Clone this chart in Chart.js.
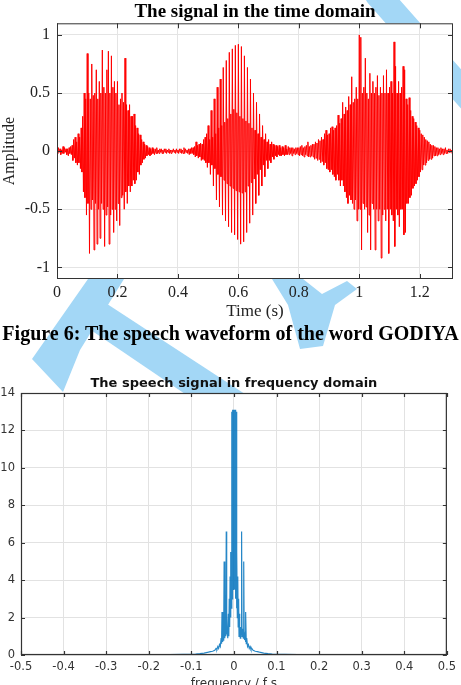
<!DOCTYPE html>
<html><head><meta charset="utf-8">
<script src="https://cdn.jsdelivr.net/npm/chart.js@4.4.1/dist/chart.umd.min.js"></script>
<style>
html,body{margin:0;padding:0;background:#fff;width:461px;height:685px;overflow:hidden;position:relative;}
#wm{position:absolute;left:0;top:0;z-index:0}
#c1wrap{position:absolute;left:0;top:0;width:461px;height:324px;z-index:1}
#c2wrap{position:absolute;left:0;top:340px;width:461px;height:360px;z-index:1}
#caption{position:absolute;left:0;top:321px;width:461px;text-align:center;font-family:"Liberation Serif";font-weight:bold;font-size:20px;line-height:24px;z-index:2;white-space:nowrap;color:#000}
</style></head><body>
<svg id="wm" width="461" height="685" xmlns="http://www.w3.org/2000/svg">
  <g fill="#a3d7f6" stroke="none">
    <polygon points="88,279 124,279 80,350 63,392 32,359"/>
    <polygon points="101,300 248,396 188,396 76,320"/>
    <polygon points="272,279 303,279 322,294 347,281 357,289 335,305 323,346 300,349 288,305"/>
  </g>
  <line x1="378" y1="-5" x2="478" y2="108" stroke="#a3d7f6" stroke-width="26" stroke-linecap="round"/>
</svg>
<div id="c1wrap"><canvas id="c1"></canvas></div>
<div id="caption">Figure 6: The speech waveform of the word GODIYA</div>
<div id="c2wrap"><canvas id="c2"></canvas></div>
<script>
// ---- time-domain data (sample spacing 0.0025 s) ----
const sampleStep = 0.0025;
const amplitude = [
 // 0.00
 0.02,-0.02,0.03,-0.01,0.02,-0.03,0.01,-0.02,0.04,-0.02,0.03,-0.01,0.02,-0.03,0.02,-0.04,0.03,-0.02,0.04,-0.03,
 // 0.05
 0.05,-0.08,0.1,-0.06,0.12,-0.1,0.08,-0.12,0.15,-0.1,0.12,-0.15,0.2,-0.18,0.3,-0.35,0.5,-0.4,0.45,-0.55,
 // 0.10
 0.84,-0.45,0.5,-0.88,0.45,-0.5,0.75,-0.42,0.48,-0.85,0.5,-0.45,0.7,-0.8,0.45,-0.5,0.6,-0.75,0.5,-0.45,
 // 0.15
 0.87,-0.5,0.55,-0.82,0.5,-0.55,0.7,-0.48,0.86,-0.8,0.5,-0.55,0.82,-0.5,0.55,-0.7,0.6,-0.5,0.5,-0.6,
 // 0.20
 0.6,-0.45,0.4,-0.64,0.45,-0.4,0.5,-0.38,0.42,-0.5,0.8,-0.35,0.4,-0.45,0.35,-0.3,0.4,-0.35,0.3,-0.3,
 // 0.25
 0.3,-0.25,0.32,-0.28,0.22,-0.25,0.2,-0.18,0.15,-0.2,0.14,-0.12,0.1,-0.1,0.08,-0.07,0.06,-0.06,0.05,-0.04,
 // 0.30
 0.04,-0.03,0.03,-0.04,0.02,-0.03,0.03,-0.02,0.02,-0.03,0.02,-0.02,0.03,-0.02,0.01,-0.02,0.02,-0.01,0.02,-0.02,
 // 0.35
 0.01,-0.02,0.02,-0.01,0.02,-0.02,0.01,-0.01,0.02,-0.02,0.01,-0.02,0.01,-0.01,0.02,-0.01,0.01,-0.02,0.02,-0.01,
 // 0.40
 0.01,-0.02,0.02,-0.01,0.02,-0.02,0.01,-0.02,0.03,-0.02,0.02,-0.01,0.01,-0.02,0.02,-0.03,0.02,-0.02,0.03,-0.02,
 // 0.45
 0.03,-0.03,0.04,-0.05,0.08,-0.04,0.05,-0.06,0.06,-0.05,0.07,-0.08,0.06,-0.07,0.1,-0.08,0.12,-0.1,0.15,-0.14,
 // 0.50 - 0.70 (second syllable)
 0.22,-0.1,0.1,-0.2,   0.35,-0.12,0.12,-0.3,  0.45,-0.15,0.15,-0.42, 0.55,-0.2,0.2,-0.48,
 0.62,-0.22,0.22,-0.55, 0.72,-0.25,0.25,-0.6,  0.78,-0.28,0.28,-0.65, 0.85,-0.3,0.32,-0.7,
 0.88,-0.32,0.36,-0.72, 0.91,-0.34,0.33,-0.76, 0.92,-0.35,0.3,-0.8,   0.9,-0.36,0.28,-0.78,
 0.82,-0.35,0.26,-0.7,  0.72,-0.3,0.24,-0.62,  0.62,-0.27,0.2,-0.55,  0.5,-0.24,0.18,-0.45,
 0.42,-0.2,0.15,-0.38,  0.32,-0.16,0.12,-0.3,  0.22,-0.12,0.1,-0.22,  0.15,-0.08,0.08,-0.15,
 // 0.70
 0.1,-0.08,0.06,-0.1,0.08,-0.05,0.06,-0.07,0.05,-0.04,0.05,-0.05,0.04,-0.03,0.05,-0.04,0.03,-0.04,0.04,-0.03,
 // 0.75
 0.03,-0.04,0.05,-0.03,0.02,-0.03,0.04,-0.03,0.03,-0.02,0.03,-0.04,0.03,-0.02,0.02,-0.03,0.03,-0.02,0.03,-0.03,
 // 0.80
 0.03,-0.04,0.04,-0.03,0.05,-0.04,0.03,-0.05,0.04,-0.03,0.05,-0.04,0.08,-0.05,0.04,-0.05,0.05,-0.04,0.06,-0.05,
 // 0.85
 0.06,-0.07,0.08,-0.06,0.07,-0.08,0.1,-0.07,0.09,-0.1,0.12,-0.09,0.1,-0.12,0.15,-0.1,0.18,-0.15,0.14,-0.16,
 // 0.90
 0.15,-0.18,0.2,-0.16,0.21,-0.2,0.18,-0.22,0.2,-0.25,0.22,-0.2,0.31,-0.25,0.24,-0.3,0.28,-0.25,0.42,-0.3,
 // 0.95
 0.32,-0.35,0.38,-0.4,0.35,-0.45,0.47,-0.38,0.4,-0.42,0.64,-0.45,0.42,-0.5,0.45,-0.42,0.55,-0.6,0.45,-0.5,
 // 1.00
 1.0,-0.5,0.98,-0.85,0.5,-0.45,0.55,-0.5,0.8,-0.48,0.5,-0.7,0.45,-0.55,0.67,-0.85,0.5,-0.45,0.6,-0.5,
 // 1.05
 0.5,-0.85,0.55,-0.5,0.65,-0.6,0.48,-0.5,0.55,-0.92,0.5,-0.55,0.65,-0.5,0.5,-0.6,0.7,-0.5,0.5,-0.88,
 // 1.10
 0.55,-0.5,0.6,-0.55,0.5,-0.6,0.94,-0.82,0.73,-0.5,0.5,-0.55,0.6,-0.65,0.5,-0.5,0.55,-0.5,0.73,-0.72,
 // 1.15
 0.7,-0.7,0.45,-0.45,0.4,-0.45,0.46,-0.4,0.35,-0.38,0.3,-0.32,0.28,-0.3,0.25,-0.28,0.22,-0.25,0.2,-0.22,
 // 1.20
 0.18,-0.18,0.15,-0.16,0.14,-0.12,0.12,-0.12,0.1,-0.1,0.09,-0.08,0.08,-0.07,0.06,-0.07,0.05,-0.06,0.05,-0.04,
 // 1.25
 0.04,-0.04,0.03,-0.04,0.03,-0.03,0.02,-0.03,0.03,-0.02,0.02,-0.03,0.02,-0.02,0.03,-0.02,0.01,-0.02,0.02,-0.01,
 // 1.30
 0.02,-0.01,0.01,-0.02,0.01
];
const timeTicks = [0,0.2,0.4,0.6,0.8,1,1.2];
const ampTicks = [-1,-0.5,0,0.5,1];

// ---- frequency-domain data ----
const freq = [-0.5,-0.4,-0.3,-0.2,-0.15,-0.12,-0.1,-0.09,-0.08,-0.07,
 -0.06,-0.055,-0.05,-0.045,-0.042,-0.04,-0.038,-0.036,-0.034,-0.032,
 -0.03,-0.029,-0.028,-0.027,-0.026,-0.025,-0.024,-0.023,-0.022,-0.021,
 -0.02,-0.019,-0.018,-0.017,-0.016,-0.015,-0.014,-0.013,-0.012,-0.011,
 -0.01,-0.009,-0.008,-0.007,-0.006,-0.005,-0.004,-0.003,-0.002,-0.001,
 0,
 0.001,0.002,0.003,0.004,0.005,0.006,0.007,0.008,0.009,0.01,
 0.011,0.012,0.013,0.014,0.015,0.016,0.017,0.018,0.019,0.02,
 0.021,0.022,0.023,0.024,0.025,0.026,0.027,0.028,0.029,0.03,
 0.032,0.034,0.036,0.038,0.04,0.042,0.045,0.05,0.055,0.06,
 0.07,0.08,0.09,0.1,0.12,0.15,0.2,0.3,0.4,0.5];
const magnitude = [0.01,0.01,0.01,0.015,0.02,0.03,0.04,0.05,0.07,0.1,
 0.15,0.18,0.2,0.25,0.35,0.3,0.45,0.35,0.55,0.45,
 0.9,0.6,2.3,0.7,1.0,0.8,1.2,5.0,0.9,1.1,
 1.4,1.0,6.6,1.1,1.5,0.9,1.3,2.2,1.0,3.0,
 1.5,4.2,2.0,5.5,2.5,13.0,3.0,13.1,3.5,13.1,
 4.0,
 13.1,3.5,13.1,3.0,13.0,2.5,5.5,2.0,4.2,1.5,
 3.0,1.0,2.2,1.3,0.9,1.5,1.1,6.6,1.0,1.4,
 1.1,0.9,5.0,1.2,0.8,1.0,0.7,2.3,0.6,0.9,
 0.45,0.55,0.35,0.45,0.3,0.35,0.25,0.2,0.18,0.15,
 0.1,0.07,0.05,0.04,0.03,0.02,0.015,0.01,0.01,0.01];

function fmt(v){ if (Math.abs(v) < 1e-9) return '0'; return String(parseFloat(v.toFixed(3))); }

const framePlugin = {
  id: 'frame',
  beforeDraw(chart){
    const {ctx, chartArea:a} = chart;
    ctx.save(); ctx.fillStyle = '#fff';
    ctx.fillRect(a.left, a.top, a.right - a.left, a.bottom - a.top);
    ctx.restore();
  },
  afterDraw(chart, args, o){
    const {ctx, chartArea:a, scales} = chart;
    ctx.save();
    ctx.strokeStyle = o.color; ctx.lineWidth = o.width;
    const L = o.tick;
    ctx.beginPath();
    scales.x.ticks.forEach(t => {
      const p = Math.round(scales.x.getPixelForValue(t.value)) + 0.5;
      ctx.moveTo(p, a.bottom); ctx.lineTo(p, a.bottom - L);
      ctx.moveTo(p, a.top); ctx.lineTo(p, a.top + L);
    });
    scales.y.ticks.forEach(t => {
      const p = Math.round(scales.y.getPixelForValue(t.value)) + 0.5;
      ctx.moveTo(a.left, p); ctx.lineTo(a.left + L, p);
      ctx.moveTo(a.right, p); ctx.lineTo(a.right - L, p);
    });
    ctx.stroke();
    ctx.strokeRect(a.left + 0.5, a.top + 0.5, a.right - a.left - 1, a.bottom - a.top - 1);
    ctx.restore();
  }
};

const serif = 'Liberation Serif';
new Chart(document.getElementById('c1'), {
  type: 'line',
  data: { datasets: [{
    data: amplitude.map((v, i) => ({x: i * sampleStep, y: v})),
    borderColor: '#ff0000', borderWidth: 1, pointRadius: 0, tension: 0
  }]},
  options: {
    responsive: true, maintainAspectRatio: false, animation: false,
    layout: { padding: {left: 0, right: 8, top: 0, bottom: 0} },
    plugins: {
      legend: {display: false}, tooltip: {enabled: false},
      title: { display: true, text: 'The signal in the time domain', fullSize: false,
        color: '#000', font: {family: serif, size: 19, weight: 'bold'}, padding: {top: 0.5, bottom: 0} },
      frame: {color: '#333', width: 1, tick: 5}
    },
    scales: {
      x: { type: 'linear', min: 0, max: 1.31,
        afterBuildTicks(s){ s.ticks = timeTicks.map(v => ({value: v})); },
        grid: {color: '#e4e4e4', drawTicks: false}, border: {display: false},
        ticks: {padding: 4.4, color: '#222', font: {family: serif, size: 16}, callback: fmt, maxRotation: 0},
        title: {display: true, text: 'Time (s)', color: '#222', font: {family: serif, size: 17}, padding: {top: 0, bottom: 2.3}},
        afterFit(s){ s.height = 45; }
      },
      y: { min: -1.1, max: 1.1,
        afterBuildTicks(s){ s.ticks = ampTicks.map(v => ({value: v})); },
        grid: {color: '#e4e4e4', drawTicks: false}, border: {display: false},
        ticks: {padding: 7, color: '#222', font: {family: serif, size: 16}, callback: fmt},
        title: {display: true, text: 'Amplitude', color: '#222', font: {family: serif, size: 16}, padding: {top: 0, bottom: 0}},
        afterFit(s){ s.width = 57; }
      }
    }
  },
  plugins: [framePlugin]
});

const sans = 'DejaVu Sans';
new Chart(document.getElementById('c2'), {
  type: 'line',
  data: { datasets: [{
    data: freq.map((f, i) => ({x: f, y: magnitude[i]})),
    borderColor: 'rgba(0,114,189,0.85)', borderWidth: 1.2, pointRadius: 0, tension: 0
  }]},
  options: {
    responsive: true, maintainAspectRatio: false, animation: false,
    layout: { padding: {left: 0, right: 12, top: 0, bottom: 0} },
    plugins: {
      legend: {display: false}, tooltip: {enabled: false},
      title: { display: true, text: 'The speech signal in frequency domain', fullSize: false,
        color: '#111', font: {family: sans, size: 13, weight: 'bold'}, padding: {top: 36.2, bottom: 1.2} },
      frame: {color: '#333', width: 1.2, tick: 4}
    },
    scales: {
      x: { type: 'linear', min: -0.5, max: 0.5,
        grid: {color: '#e2e2e2', drawTicks: false}, border: {display: false},
        ticks: {stepSize: 0.1, padding: 5, color: '#333', font: {family: sans, size: 11.5}, callback: fmt, maxRotation: 0, autoSkip: false},
        title: {display: true, text: 'frequency / f s', color: '#333', font: {family: sans, size: 12}, padding: {top: 0, bottom: 8.8}},
        afterFit(s){ s.height = 45; }
      },
      y: { min: 0, max: 14,
        grid: {color: '#e2e2e2', drawTicks: false}, border: {display: false},
        ticks: {stepSize: 2, padding: 6, color: '#333', font: {family: sans, size: 11.5}, callback: fmt},
        afterFit(s){ s.width = 21; }
      }
    }
  },
  plugins: [framePlugin]
});
</script>
</body></html>
